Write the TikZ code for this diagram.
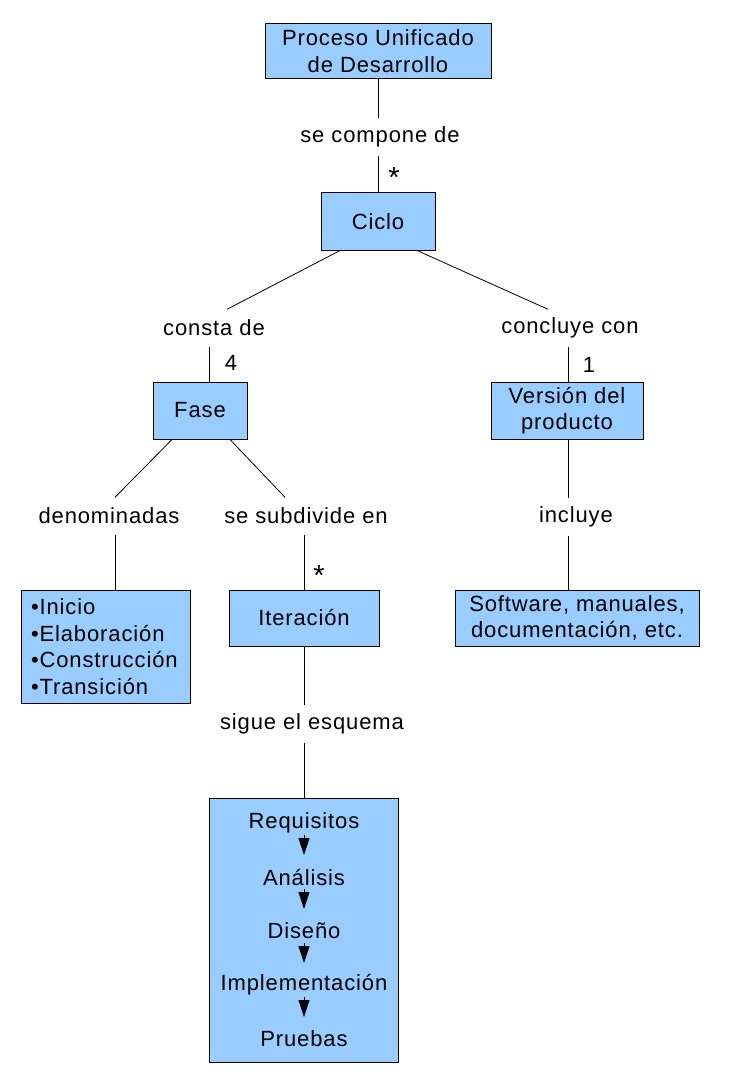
\documentclass[tikz,border=0pt]{standalone}
\usepackage{fontspec}
\setmainfont[LetterSpace=4]{Liberation Sans}
\usetikzlibrary{calc,arrows.meta}
\definecolor{boxblue}{HTML}{99CCFF}
\tikzset{
  box/.style={draw=black, fill=boxblue, line width=1pt, inner sep=0pt, align=center,
    font=\fontsize{22}{26.5}\selectfont},
  lab/.style={inner sep=0pt, minimum height=37pt, font=\fontsize{22}{26.5}\selectfont},
  item/.style={inner sep=0pt, font=\fontsize{22}{26.5}\selectfont},
  mult/.style={inner sep=0pt, font=\fontsize{22}{26.5}\selectfont},
  star/.style={inner sep=0pt, font=\fontsize{29}{30}\selectfont},
  conn/.style={draw=black, line width=0.8pt},
  tri/.style={-{Triangle[width=11pt,length=17pt]}, line width=0.8pt}
}
\begin{document}
\begin{tikzpicture}[x=1pt,y=-1pt]
\useasboundingbox (0,0) rectangle (728,1091);
% boxes
\node[box, minimum width=226pt, minimum height=55pt] (pu) at (378,51) {Proceso Unificado\\de Desarrollo};
\node[box, minimum width=114pt, minimum height=57pt] (ciclo) at (378,221.5) {Ciclo};
\node[box, minimum width=94pt, minimum height=57pt] (fase) at (200,410.5) {Fase};
\node[box, minimum width=152pt, minimum height=57pt] (version) at (567,410.5) {Versión del\\producto};
\node[box, minimum height=113pt, text width=149pt, inner xsep=10pt, align=left] (lista) at (105.5,646.5) {•Inicio\\•Elaboración\\•Construcción\\•Transición};
\node[box, minimum width=150pt, minimum height=56pt] (iter) at (304,618) {Iteración};
\node[box, minimum width=244pt, minimum height=56pt] (soft) at (577,618) {Software, manuales,\\documentación, etc.};
\node[box, minimum width=189pt, minimum height=264pt] (pasos) at (303.5,930) {};
% items in the last box
\node[item] (req) at (304,823) {Requisitos};
\node[item] (ana) at (304,877) {Análisis};
\node[item] (dis) at (304,931) {Diseño};
\node[item] (imp) at (304,985) {Implementación};
\node[item] (pru) at (304,1039) {Pruebas};
\foreach \a/\b in {req/ana, ana/dis, dis/imp, imp/pru}
  \draw[tri] ($(\a)+(0,12)$) -- ($(\b)+(0,-22)$);
% labels
\node[lab] (compone) at (380,137) {se compone de};
\node[lab] (consta) at (214,328) {consta de};
\node[lab] (concluye) at (570,328) {concluye con};
\node[lab] (denom) at (109,516) {denominadas};
\node[lab] (subdiv) at (306,516) {se subdivide en};
\node[lab] (incluye) at (576,517) {incluye};
\node[lab] (sigue) at (312,724) {sigue el esquema};
% multiplicities
\node[star] (m1) at (394,178) {*};
\node[mult] (m2) at (231,363) {4};
\node[mult] (m3) at (589,365) {1};
\node[star] (m4) at (319,576) {*};
% connectors
\draw[conn] (pu.south) -- ($(compone.north)+(-2,0)$);
\draw[conn] ($(compone.south)+(-2,0)$) -- (ciclo.north);
\draw[conn] ($(ciclo.south)+(-38,0)$) -- ($(consta.north)+(13,0)$);
\draw[conn] ($(consta.south)+(-5,0)$) -- ($(fase.north)+(9,0)$);
\draw[conn] ($(ciclo.south)+(39,0)$) -- ($(concluye.north)+(-22,0)$);
\draw[conn] ($(concluye.south)+(-2,0)$) -- ($(version.north)+(1,0)$);
\draw[conn] ($(fase.south)+(-28,0)$) -- ($(denom.north)+(6,0)$);
\draw[conn] ($(denom.south)+(6,0)$) -- ($(lista.north)+(9.5,0)$);
\draw[conn] ($(fase.south)+(30,0)$) -- ($(subdiv.north)+(-21,0)$);
\draw[conn] ($(subdiv.south)+(-2,0)$) -- (iter.north);
\draw[conn] (iter.south) -- ($(sigue.north)+(-8,0)$);
\draw[conn] ($(sigue.south)+(-8,0)$) -- ($(pasos.north)+(0.5,0)$);
\draw[conn] ($(version.south)+(1,0)$) -- ($(incluye.north)+(-8,0)$);
\draw[conn] ($(incluye.south)+(-8,0)$) -- ($(soft.north)+(-9,0)$);
\end{tikzpicture}
\end{document}
